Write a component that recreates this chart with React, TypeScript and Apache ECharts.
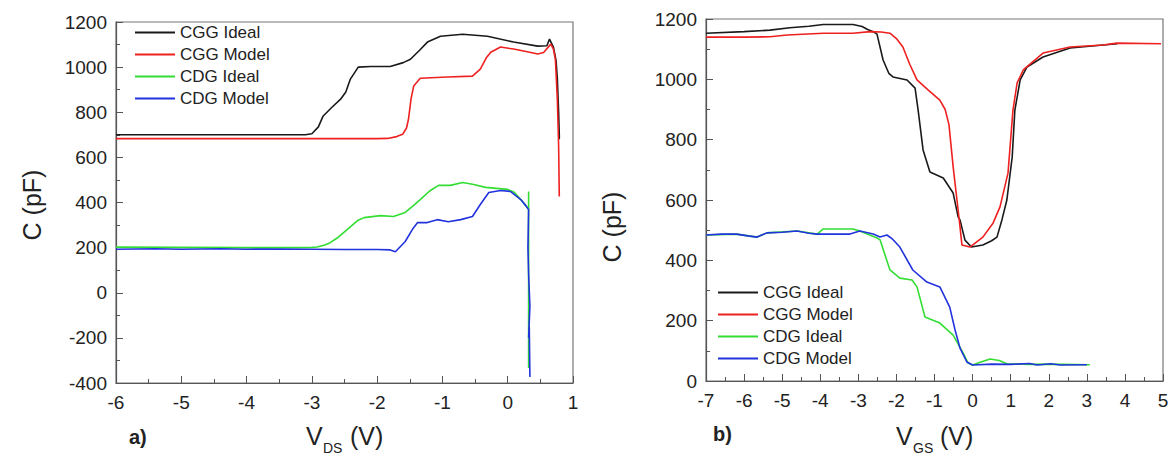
import React, { useEffect, useRef } from "react";
import * as echarts from "echarts";

const seriesNames = ["CGG Ideal", "CGG Model", "CDG Ideal", "CDG Model"];
const seriesColors = ["#1a1a1a", "#ee2020", "#33dd33", "#2233dd"];

// Panel a): C vs VDS
const cggIdealA = [[-6,700],[-5,700],[-4,700],[-3.1,700],[-3.0,705],[-2.9,735],[-2.83,782],[-2.7,820],[-2.56,858],[-2.48,890],[-2.41,947],[-2.29,1000],[-2.1,1003],[-1.8,1003],[-1.6,1020],[-1.49,1035],[-1.35,1075],[-1.23,1111],[-1.03,1137],[-0.69,1146],[-0.31,1137],[0.09,1111],[0.46,1093],[0.6,1095],[0.64,1124],[0.70,1089],[0.74,1030],[0.76,950],[0.78,800],[0.79,700],[0.79,680]];
const cggModelA = [[-6,683],[-4,683],[-2,683],[-1.84,684],[-1.7,692],[-1.61,702],[-1.55,730],[-1.52,769],[-1.48,860],[-1.44,916],[-1.34,951],[-0.92,956],[-0.54,960],[-0.42,991],[-0.33,1040],[-0.26,1066],[-0.11,1089],[0.09,1080],[0.3,1068],[0.46,1058],[0.55,1065],[0.66,1102],[0.70,1080],[0.73,1035],[0.76,858],[0.78,650],[0.79,427]];
const cdgIdealA = [[-6,202],[-5,201],[-4,200],[-3,201],[-2.92,203],[-2.8,212],[-2.72,222],[-2.6,245],[-2.46,280],[-2.3,320],[-2.2,333],[-1.95,342],[-1.75,338],[-1.57,356],[-1.45,385],[-1.34,413],[-1.2,450],[-1.06,476],[-0.88,476],[-0.69,489],[-0.52,480],[-0.34,467],[0,458],[0.1,445],[0.2,413],[0.28,385],[0.32,369],[0.32,449],[0.32,300],[0.32,100],[0.32,-100],[0.32,-333]];
const cdgModelA = [[-6,193],[-5.4,195],[-5,193],[-4.4,195],[-4,193],[-3.5,194],[-3,193],[-2.5,192],[-2,192],[-1.8,190],[-1.72,182],[-1.57,227],[-1.45,285],[-1.38,311],[-1.23,311],[-1.08,324],[-0.91,315],[-0.72,324],[-0.54,338],[-0.42,391],[-0.29,444],[-0.11,453],[0.04,449],[0.2,413],[0.28,385],[0.32,369],[0.31,200],[0.32,80],[0.34,-60],[0.32,-200],[0.33,-150],[0.34,-373]];

// Panel b): C vs VGS
const cggIdealB = [[-7,1153],[-6,1158],[-5.32,1163],[-4.8,1171],[-4.3,1176],[-3.92,1182],[-3.14,1182],[-2.9,1175],[-2.77,1166],[-2.61,1158],[-2.51,1150],[-2.35,1064],[-2.2,1020],[-2.09,1008],[-1.72,998],[-1.51,971],[-1.43,898],[-1.30,766],[-1.12,693],[-0.77,673],[-0.51,623],[-0.38,544],[-0.33,534],[-0.20,467],[-0.03,444],[0.27,451],[0.5,465],[0.64,477],[0.77,534],[0.9,600],[1.04,742],[1.11,898],[1.25,998],[1.43,1041],[1.85,1074],[2.56,1104],[3.43,1114],[3.8,1118]];
const cggModelB = [[-7,1140],[-6,1140],[-5.32,1141],[-4.87,1147],[-3.92,1153],[-3.14,1153],[-2.69,1158],[-2.4,1157],[-2.17,1153],[-2.0,1135],[-1.83,1107],[-1.65,1050],[-1.46,998],[-1.17,965],[-0.86,931],[-0.72,900],[-0.62,850],[-0.51,710],[-0.41,600],[-0.33,511],[-0.28,451],[-0.07,444],[0.27,477],[0.54,524],[0.72,577],[0.93,689],[1.06,898],[1.17,988],[1.33,1031],[1.85,1087],[2.56,1107],[3.43,1114],[3.79,1120],[4.95,1118]];
const cdgIdealB = [[-7,484],[-6.2,487],[-5.66,477],[-5.4,491],[-4.61,497],[-4.08,487],[-3.92,504],[-3.14,504],[-2.96,497],[-2.51,474],[-2.43,468],[-2.17,368],[-1.91,341],[-1.59,335],[-1.46,312],[-1.25,212],[-0.86,192],[-0.51,152],[-0.25,93],[-0.12,60],[0,53],[0.2,62],[0.46,73],[0.7,68],[0.9,57],[1.5,55],[2,56],[3.08,54]];
const cdgModelB = [[-7,484],[-6.6,487],[-6.2,487],[-5.9,481],[-5.66,477],[-5.4,491],[-5.0,493],[-4.61,497],[-4.3,490],[-4.08,487],[-3.22,487],[-2.96,497],[-2.61,487],[-2.43,477],[-2.25,484],[-2.1,470],[-1.91,444],[-1.57,368],[-1.2,328],[-0.86,312],[-0.6,245],[-0.46,169],[-0.33,109],[-0.15,63],[0,53],[0.5,56],[1,55],[1.5,58],[1.7,53],[2.05,57],[2.3,53],[3.0,54]];

const FONT = "Liberation Sans, Arial, sans-serif";

function makeAxis(gridIndex: number, min: number, max: number, interval: number, isX: boolean) {
  return {
    type: "value",
    gridIndex,
    min,
    max,
    interval,
    axisLine: { show: true, onZero: false, lineStyle: { color: "#555", width: 1.2 } },
    axisTick: { show: true, inside: true, length: 7, lineStyle: { color: "#555" } },
    minorTick: { show: true, splitNumber: 2, length: 4, lineStyle: { color: "#555" } },
    splitLine: { show: false },
    minorSplitLine: { show: false },
    axisLabel: {
      color: "#222", fontSize: 19, fontFamily: FONT, margin: isX ? 10 : 9,
      formatter: (v: number) => String(v),
    },
  };
}

export default function App() {
  const ref = useRef<HTMLDivElement>(null);
  useEffect(() => {
    document.body.style.margin = "0";
    const chart = echarts.init(ref.current!, null, { renderer: "svg" });
    const dataA = [cggIdealA, cggModelA, cdgIdealA, cdgModelA];
    const dataB = [cggIdealB, cggModelB, cdgIdealB, cdgModelB];
    const series: any[] = [];
    dataA.forEach((d, i) =>
      series.push({
        type: "line", name: seriesNames[i], xAxisIndex: 0, yAxisIndex: 0, data: d,
        showSymbol: false, symbol: "none", color: seriesColors[i],
        lineStyle: { color: seriesColors[i], width: 1.6 },
      })
    );
    dataB.forEach((d, i) =>
      series.push({
        type: "line", name: seriesNames[i], xAxisIndex: 1, yAxisIndex: 1, data: d,
        showSymbol: false, symbol: "none", color: seriesColors[i],
        lineStyle: { color: seriesColors[i], width: 1.6 },
      })
    );
    const legendBase = {
      orient: "vertical",
      data: seriesNames,
      icon: "rect",
      itemWidth: 40,
      itemHeight: 2,
      itemGap: 5,
      padding: 0,
      selectedMode: false,
      textStyle: { color: "#222", fontSize: 17, fontFamily: FONT, lineHeight: 17 },
    };
    const subTitle = (x: number, main: string, sub: string) => [
      { type: "text", left: x, top: 423, style: { text: main, fontSize: 25, fontFamily: FONT, fill: "#222" } },
      { type: "text", left: x + 17, top: 441, style: { text: sub, fontSize: 14, fontFamily: FONT, fill: "#222" } },
      { type: "text", left: x + 44, top: 423, style: { text: "(V)", fontSize: 25, fontFamily: FONT, fill: "#222" } },
    ];
    chart.setOption({
      animation: false,
      grid: [
        { left: 116, top: 22, width: 457, height: 361, show: true, borderColor: "#777", borderWidth: 1.2, backgroundColor: "transparent" },
        { left: 706, top: 19, width: 457, height: 362, show: true, borderColor: "#777", borderWidth: 1.2, backgroundColor: "transparent" },
      ],
      xAxis: [makeAxis(0, -6, 1, 1, true), makeAxis(1, -7, 5, 1, true)],
      yAxis: [makeAxis(0, -400, 1200, 200, false), makeAxis(1, 0, 1200, 200, false)],
      legend: [
        { ...legendBase, left: 135, top: 24 },
        { ...legendBase, left: 718, top: 284 },
      ],
      series,
      graphic: [
        { type: "text", x: 32, y: 205, rotation: Math.PI / 2, style: { text: "C (pF)", fontSize: 25, fontFamily: FONT, fill: "#222", align: "center", verticalAlign: "middle" } },
        { type: "text", x: 612, y: 227, rotation: Math.PI / 2, style: { text: "C (pF)", fontSize: 25, fontFamily: FONT, fill: "#222", align: "center", verticalAlign: "middle" } },
        ...subTitle(306, "V", "DS"),
        ...subTitle(896, "V", "GS"),
        { type: "text", left: 129, top: 427, style: { text: "a)", fontSize: 20, fontWeight: "bold", fontFamily: FONT, fill: "#222" } },
        { type: "text", left: 713, top: 424, style: { text: "b)", fontSize: 20, fontWeight: "bold", fontFamily: FONT, fill: "#222" } },
      ],
    });
    return () => chart.dispose();
  }, []);
  return <div ref={ref} style={{ width: 1173, height: 457 }} />;
}
